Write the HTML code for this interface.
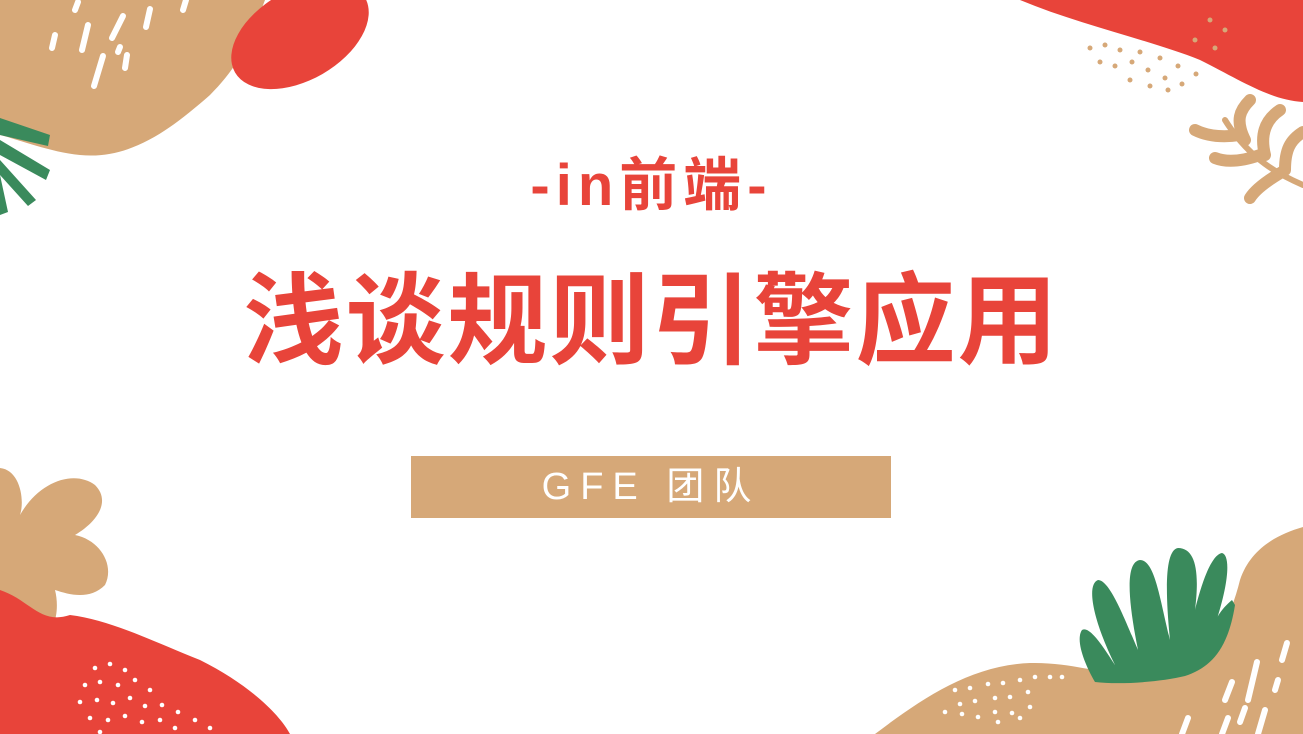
<!DOCTYPE html>
<html><head><meta charset="utf-8"><style>
html,body{margin:0;padding:0;background:#fff;}
#slide{position:relative;width:1303px;height:734px;overflow:hidden;background:#fff;font-family:"Liberation Sans","Noto Sans CJK SC",sans-serif;}
svg{position:absolute;left:0;top:0;}
.t{position:absolute;left:0;width:1303px;text-align:center;color:#E8443A;font-weight:bold;}
</style></head><body>
<div id="slide">
<svg width="1303" height="734" viewBox="0 0 1303 734">
 <path d="M0,0 L265,0 C250,40 240,65 210,95 C170,130 130,160 80,155 C50,152 20,140 0,135 Z" fill="#D6A878"/>
 <ellipse cx="300" cy="35" rx="75" ry="45" transform="rotate(-30 300 35)" fill="#E8443A"/>
 <g stroke="#fff" stroke-width="6" stroke-linecap="round">
  <line x1="78" y1="2" x2="75" y2="10"/><line x1="55" y1="35" x2="52" y2="48"/><line x1="88" y1="25" x2="82" y2="50"/><line x1="123" y1="16" x2="112" y2="38"/><line x1="150" y1="9" x2="146" y2="27"/><line x1="103" y1="56" x2="94" y2="86"/><line x1="127" y1="55" x2="125" y2="68"/><line x1="120" y1="47" x2="118" y2="52"/><line x1="186" y1="0" x2="183" y2="10"/>
 </g>
 <g fill="#3A8A5C">
  <path d="M0,118 L50,135 L48,146 L0,135 Z"/><path d="M0,140 L50,170 L46,180 L0,155 Z"/><path d="M0,160 L36,200 L28,206 L0,175 Z"/><path d="M0,175 L8,212 L0,215 Z"/>
 </g>
 <path d="M1020,0 L1303,0 L1303,102 C1270,100 1240,80 1200,60 C1150,40 1080,25 1020,0 Z" fill="#E8443A"/>
 <g fill="#D6A878">
  <circle cx="1090" cy="48" r="2.5"/><circle cx="1105" cy="45" r="2.5"/><circle cx="1120" cy="50" r="2.5"/><circle cx="1100" cy="62" r="2.5"/><circle cx="1115" cy="66" r="2.5"/><circle cx="1132" cy="62" r="2.5"/><circle cx="1148" cy="70" r="2.5"/><circle cx="1165" cy="78" r="2.5"/><circle cx="1182" cy="84" r="2.5"/><circle cx="1140" cy="52" r="2.5"/><circle cx="1160" cy="58" r="2.5"/><circle cx="1178" cy="66" r="2.5"/><circle cx="1196" cy="74" r="2.5"/><circle cx="1210" cy="20" r="2.5"/><circle cx="1225" cy="30" r="2.5"/><circle cx="1195" cy="40" r="2.5"/><circle cx="1215" cy="48" r="2.5"/><circle cx="1130" cy="80" r="2.5"/><circle cx="1150" cy="86" r="2.5"/><circle cx="1168" cy="90" r="2.5"/>
 </g>
 <g stroke="#D6A878" stroke-linecap="round" fill="none">
  <path d="M1303,185 C1280,175 1250,160 1225,120" stroke-width="6"/>
  <path d="M1245,140 C1235,120 1240,110 1250,100" stroke-width="12"/>
  <path d="M1265,155 C1260,135 1265,120 1280,110" stroke-width="12"/>
  <path d="M1285,170 C1285,150 1290,140 1303,132" stroke-width="12"/>
  <path d="M1240,135 C1220,138 1205,135 1195,130" stroke-width="12"/>
  <path d="M1260,155 C1240,162 1225,162 1215,158" stroke-width="12"/>
  <path d="M1282,172 C1265,182 1255,190 1250,198" stroke-width="12"/>
 </g>
 <path d="M0,468 C20,470 25,500 20,515 C40,480 75,470 95,485 C110,500 100,520 75,535 C100,540 115,565 105,585 C90,600 70,595 55,590 C60,610 55,635 40,635 C25,635 15,610 0,595 Z" fill="#D6A878"/>
 <path d="M0,590 C30,600 40,625 70,615 C110,620 150,640 200,660 C250,685 280,715 290,734 L0,734 Z" fill="#E8443A"/>
 <g fill="#fff">
  <circle cx="95" cy="668" r="2.3"/><circle cx="110" cy="664" r="2.3"/><circle cx="125" cy="670" r="2.3"/><circle cx="85" cy="685" r="2.3"/><circle cx="100" cy="682" r="2.3"/><circle cx="118" cy="685" r="2.3"/><circle cx="135" cy="680" r="2.3"/><circle cx="150" cy="690" r="2.3"/><circle cx="80" cy="702" r="2.3"/><circle cx="97" cy="700" r="2.3"/><circle cx="113" cy="703" r="2.3"/><circle cx="130" cy="698" r="2.3"/><circle cx="145" cy="706" r="2.3"/><circle cx="162" cy="705" r="2.3"/><circle cx="178" cy="712" r="2.3"/><circle cx="90" cy="718" r="2.3"/><circle cx="108" cy="720" r="2.3"/><circle cx="125" cy="716" r="2.3"/><circle cx="142" cy="722" r="2.3"/><circle cx="160" cy="720" r="2.3"/><circle cx="195" cy="720" r="2.3"/><circle cx="175" cy="728" r="2.3"/><circle cx="210" cy="728" r="2.3"/><circle cx="100" cy="732" r="2.3"/>
 </g>
 <path d="M875,734 C920,700 970,665 1030,663 C1080,662 1100,678 1160,672 C1210,665 1230,620 1240,580 C1250,550 1275,535 1303,527 L1303,734 Z" fill="#D6A878"/>
 <g fill="#3A8A5C">
  <path d="M1095,682 C1120,685 1160,682 1185,676 C1210,668 1228,650 1235,605 L1232,600 C1220,610 1215,620 1215,625 C1230,580 1230,555 1222,553 C1210,555 1200,590 1195,610 C1200,570 1195,548 1178,548 C1165,550 1165,590 1170,640 C1160,600 1155,560 1140,560 C1125,562 1128,600 1138,650 C1125,620 1110,580 1098,580 C1085,585 1095,625 1115,665 C1105,650 1090,625 1082,630 C1075,640 1085,665 1095,682 Z"/>
 </g>
 <g fill="#fff">
  <circle cx="955" cy="690" r="2.3"/><circle cx="970" cy="688" r="2.3"/><circle cx="988" cy="684" r="2.3"/><circle cx="1003" cy="683" r="2.3"/><circle cx="1020" cy="680" r="2.3"/><circle cx="960" cy="704" r="2.3"/><circle cx="975" cy="701" r="2.3"/><circle cx="995" cy="698" r="2.3"/><circle cx="1010" cy="697" r="2.3"/><circle cx="1028" cy="692" r="2.3"/><circle cx="945" cy="712" r="2.3"/><circle cx="962" cy="714" r="2.3"/><circle cx="978" cy="717" r="2.3"/><circle cx="995" cy="712" r="2.3"/><circle cx="1012" cy="713" r="2.3"/><circle cx="1030" cy="707" r="2.3"/><circle cx="1050" cy="677" r="2.3"/><circle cx="1062" cy="677" r="2.3"/><circle cx="1035" cy="677" r="2.3"/><circle cx="998" cy="722" r="2.3"/><circle cx="1020" cy="718" r="2.3"/>
 </g>
 <g stroke="#fff" stroke-width="6" stroke-linecap="round">
  <line x1="1287" y1="643" x2="1282" y2="660"/><line x1="1257" y1="662" x2="1248" y2="700"/><line x1="1232" y1="682" x2="1225" y2="700"/><line x1="1278" y1="680" x2="1275" y2="690"/><line x1="1265" y1="710" x2="1258" y2="734"/><line x1="1188" y1="718" x2="1182" y2="734"/><line x1="1228" y1="718" x2="1222" y2="734"/><line x1="1245" y1="708" x2="1240" y2="722"/>
 </g>
 <rect x="411" y="456" width="480" height="62" fill="#D6A878"/>
</svg>
<div class="t" style="top:148px;font-size:58px;line-height:76px;letter-spacing:6px;">-in前端-</div>
<div class="t" style="top:262px;font-size:100px;line-height:120px;letter-spacing:2px;">浅谈规则引擎应用</div>
<div class="t" style="top:461px;left:411px;width:480px;font-size:38px;line-height:52px;color:#fff;font-weight:normal;letter-spacing:9px;">GFE 团队</div>
</div>
</body></html>
